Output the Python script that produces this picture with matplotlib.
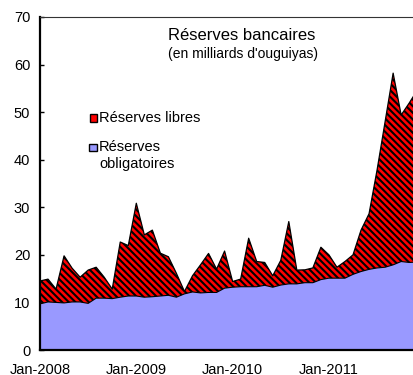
import numpy as np
import matplotlib
matplotlib.use('Agg')
import matplotlib.pyplot as plt
from matplotlib.patches import Rectangle

plt.rcParams['font.family'] = ['Liberation Sans', 'DejaVu Sans']
plt.rcParams['hatch.linewidth'] = 1.5
plt.rcParams['hatch.color'] = 'black'

# monthly data, Jan-2008 .. Dec-2011 (milliards d'ouguiyas)
obligatoires = [9.7, 10.1, 10.0, 9.9, 10.1, 10.1, 9.8, 10.9, 10.9, 10.8, 11.1, 11.35,
                11.35, 11.1, 11.2, 11.35, 11.5, 11.1, 11.8, 12.2, 12.0, 12.1, 12.1, 13.0,
                13.2, 13.3, 13.3, 13.3, 13.6, 13.2, 13.65, 13.9, 13.9, 14.15, 14.15, 14.8,
                15.1, 15.1, 15.1, 15.9, 16.5, 16.95, 17.25, 17.4, 17.9, 18.6, 18.4, 18.5]
libres = [4.8, 4.8, 2.8, 9.9, 7.1, 5.2, 7.0, 6.5, 4.4, 2.0, 11.6, 10.6,
          19.5, 13.1, 14.0, 9.0, 8.1, 5.0, 0.5, 3.4, 5.9, 8.2, 4.9, 7.8,
          1.2, 1.6, 10.2, 5.3, 4.8, 2.4, 5.2, 13.1, 2.9, 2.7, 3.1, 6.8,
          4.9, 2.3, 3.5, 4.1, 8.7, 11.7, 20.6, 30.6, 40.3, 30.8, 33.5, 36.1]
tick_labels = ['Jan-2008', 'Jan-2009', 'Jan-2010', 'Jan-2011']

months = np.arange(len(obligatoires))
oblig = np.array(obligatoires)
total = oblig + np.array(libres)

fig = plt.figure(figsize=(4.14, 3.75), dpi=100)
ax = fig.add_axes([40 / 414, 25 / 375, 1 - 40 / 414, 333 / 375])

blue = '#9999ff'
red = '#ff0000'
hatch = '\\' * 5
ax.fill_between(months, 0, oblig, facecolor=blue, edgecolor='none', zorder=2)
ax.plot(months, oblig, color='black', lw=0.8, zorder=3)
ax.fill_between(months, oblig, total, facecolor=red, edgecolor='black',
                hatch=hatch, linewidth=0, zorder=2)
ax.plot(months, total, color='black', lw=0.9, zorder=3)

ax.set_xlim(0, 46.6)
ax.set_ylim(0, 70)
ax.set_yticks(range(0, 71, 10))
ax.set_xticks([0, 12, 24, 36])
ax.set_xticklabels(tick_labels)
ax.tick_params(direction='in', length=3, width=1, labelsize=10.5)
ax.tick_params(axis='y', pad=7)
ax.tick_params(axis='x', pad=9)

ax.spines['left'].set_linewidth(1.6)
ax.spines['bottom'].set_linewidth(1.6)
ax.spines['top'].set_linewidth(0.8)
ax.spines['top'].set_color('#333333')
ax.spines['right'].set_visible(False)

fig.text(242 / 414, 1 - 36 / 375, 'Réserves bancaires',
         ha='center', va='center', fontsize=12)
fig.text(243 / 414, 1 - 54 / 375, "(en milliards d'ouguiyas)",
         ha='center', va='center', fontsize=10)

# legend drawn by hand
def px(x, y):
    return x / 414, 1 - y / 375

x0, y0 = px(90, 122)
fig.patches.append(Rectangle((x0, y0), 7 / 414, 8 / 375, transform=fig.transFigure,
                             facecolor=red, edgecolor='black', hatch='\\\\', lw=1))
x0, y0 = px(89, 151)
fig.patches.append(Rectangle((x0, y0), 8 / 414, 7 / 375, transform=fig.transFigure,
                             facecolor=blue, edgecolor='black', lw=1))
fig.text(*px(99, 118), 'Réserves libres', ha='left', va='center', fontsize=10.5)
fig.text(*px(99, 147), 'Réserves', ha='left', va='center', fontsize=10.5)
fig.text(*px(99, 164), 'obligatoires', ha='left', va='center', fontsize=10.5)

fig.savefig('out.png', dpi=100)
